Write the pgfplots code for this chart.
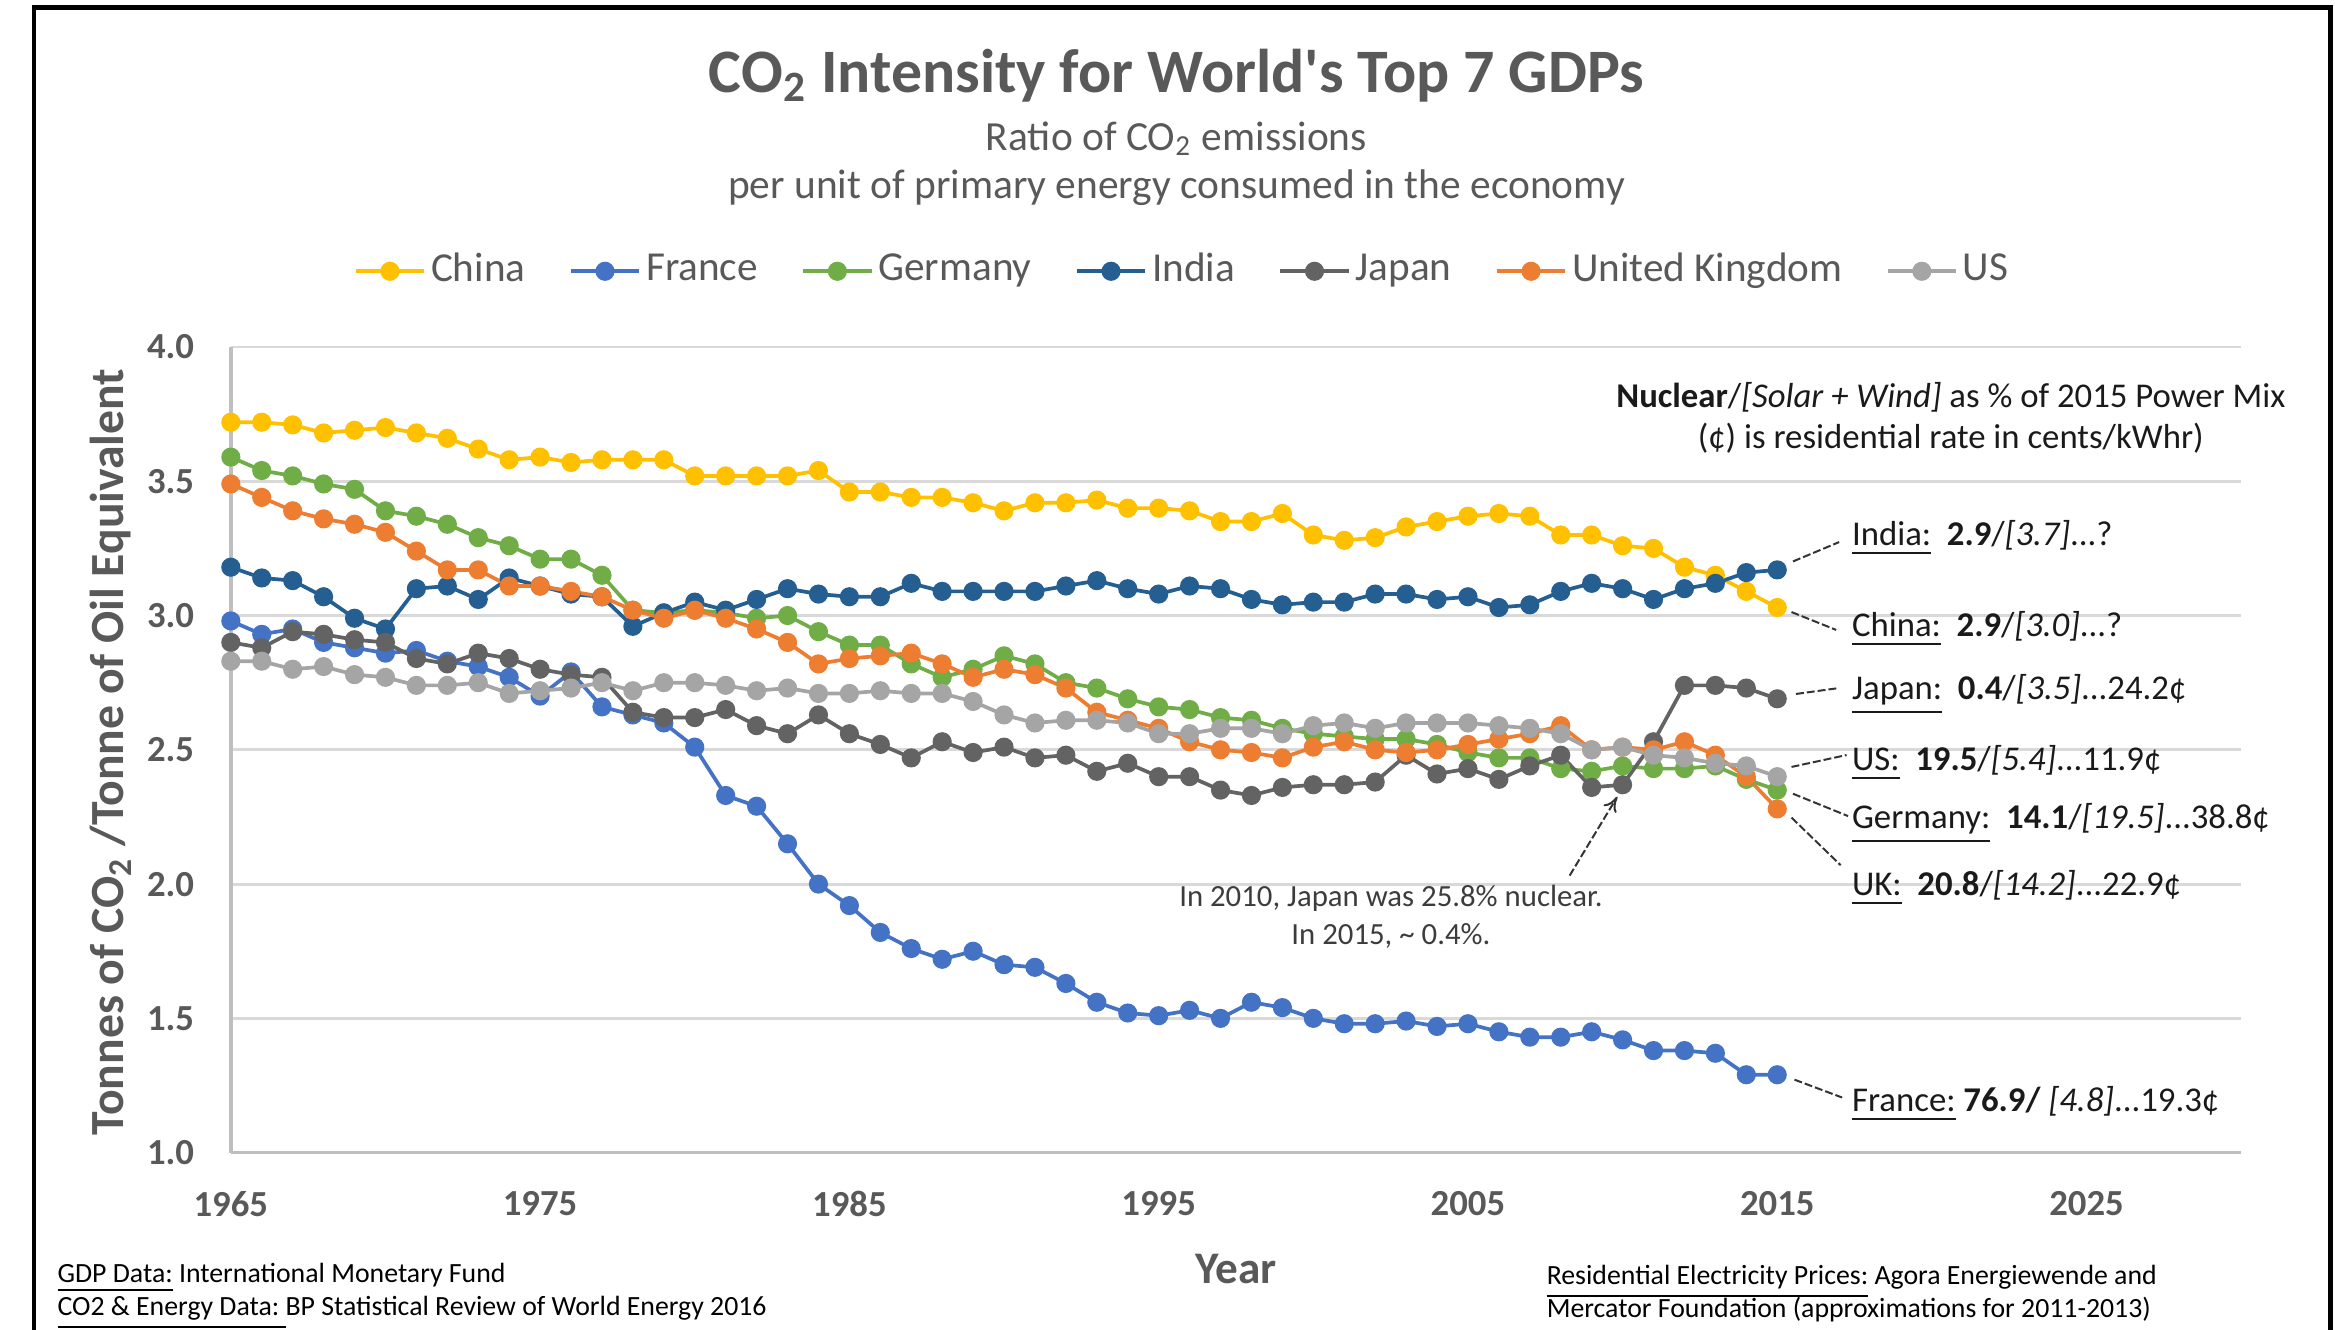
\documentclass[border=0pt]{standalone}
\usepackage{pgfplots}
\pgfplotsset{compat=1.18}
\usepackage{pgfplotstable}
\usepackage{fontspec}
\setmainfont{Carlito}
\usetikzlibrary{arrows.meta}
\definecolor{cChina}{HTML}{FFC000}
\definecolor{cFrance}{HTML}{4472C4}
\definecolor{cGermany}{HTML}{70AD47}
\definecolor{cIndia}{HTML}{255E91}
\definecolor{cJapan}{HTML}{636363}
\definecolor{cUK}{HTML}{ED7D31}
\definecolor{cUS}{HTML}{A5A5A5}
\definecolor{labelgray}{HTML}{595959}
\definecolor{gridgray}{HTML}{D9D9D9}
\definecolor{axisgray}{HTML}{BFBFBF}
\definecolor{notetext}{HTML}{1A1A1A}
\newcommand\fs[1]{\fontsize{#1}{#1}\selectfont}
\newcommand\lgr[1]{\textcolor{labelgray}{#1}}

\pgfplotstableread{
year china france germany india japan uk us
1965 3.72 2.98 3.59 3.18 2.90 3.49 2.83
1966 3.72 2.93 3.54 3.14 2.88 3.44 2.83
1967 3.71 2.95 3.52 3.13 2.94 3.39 2.80
1968 3.68 2.90 3.49 3.07 2.93 3.36 2.81
1969 3.69 2.88 3.47 2.99 2.91 3.34 2.78
1970 3.70 2.86 3.39 2.95 2.90 3.31 2.77
1971 3.68 2.87 3.37 3.10 2.84 3.24 2.74
1972 3.66 2.83 3.34 3.11 2.82 3.17 2.74
1973 3.62 2.81 3.29 3.06 2.86 3.17 2.75
1974 3.58 2.77 3.26 3.14 2.84 3.11 2.71
1975 3.59 2.70 3.21 3.11 2.80 3.11 2.72
1976 3.57 2.79 3.21 3.08 2.78 3.09 2.73
1977 3.58 2.66 3.15 3.07 2.77 3.07 2.75
1978 3.58 2.63 3.02 2.96 2.64 3.02 2.72
1979 3.58 2.60 3.01 3.01 2.62 2.99 2.75
1980 3.52 2.51 3.02 3.05 2.62 3.02 2.75
1981 3.52 2.33 3.01 3.02 2.65 2.99 2.74
1982 3.52 2.29 2.99 3.06 2.59 2.95 2.72
1983 3.52 2.15 3.00 3.10 2.56 2.90 2.73
1984 3.54 2.00 2.94 3.08 2.63 2.82 2.71
1985 3.46 1.92 2.89 3.07 2.56 2.84 2.71
1986 3.46 1.82 2.89 3.07 2.52 2.85 2.72
1987 3.44 1.76 2.82 3.12 2.47 2.86 2.71
1988 3.44 1.72 2.77 3.09 2.53 2.82 2.71
1989 3.42 1.75 2.80 3.09 2.49 2.77 2.68
1990 3.39 1.70 2.85 3.09 2.51 2.80 2.63
1991 3.42 1.69 2.82 3.09 2.47 2.78 2.60
1992 3.42 1.63 2.75 3.11 2.48 2.73 2.61
1993 3.43 1.56 2.73 3.13 2.42 2.64 2.61
1994 3.40 1.52 2.69 3.10 2.45 2.61 2.60
1995 3.40 1.51 2.66 3.08 2.40 2.58 2.56
1996 3.39 1.53 2.65 3.11 2.40 2.53 2.56
1997 3.35 1.50 2.62 3.10 2.35 2.50 2.58
1998 3.35 1.56 2.61 3.06 2.33 2.49 2.58
1999 3.38 1.54 2.58 3.04 2.36 2.47 2.56
2000 3.30 1.50 2.56 3.05 2.37 2.51 2.59
2001 3.28 1.48 2.55 3.05 2.37 2.53 2.60
2002 3.29 1.48 2.54 3.08 2.38 2.50 2.58
2003 3.33 1.49 2.54 3.08 2.48 2.49 2.60
2004 3.35 1.47 2.52 3.06 2.41 2.50 2.60
2005 3.37 1.48 2.49 3.07 2.43 2.52 2.60
2006 3.38 1.45 2.47 3.03 2.39 2.54 2.59
2007 3.37 1.43 2.47 3.04 2.44 2.56 2.58
2008 3.30 1.43 2.43 3.09 2.48 2.59 2.56
2009 3.30 1.45 2.42 3.12 2.36 2.50 2.50
2010 3.26 1.42 2.44 3.10 2.37 2.51 2.51
2011 3.25 1.38 2.43 3.06 2.53 2.50 2.48
2012 3.18 1.38 2.43 3.10 2.74 2.53 2.47
2013 3.15 1.37 2.44 3.12 2.74 2.48 2.45
2014 3.09 1.29 2.39 3.16 2.73 2.40 2.44
2015 3.03 1.29 2.35 3.17 2.69 2.28 2.40
}\datatable

\begin{document}
\begin{tikzpicture}
\path[use as bounding box] (0,0) rectangle (470.4pt,-267.9pt);
\begin{axis}[
  at={(46.5pt,-232.2pt)}, anchor=south west,
  scale only axis, width=405pt, height=162.3pt,
  xmin=1965, xmax=2030, ymin=1, ymax=4,
  xtick={1965,1975,...,2025}, ytick={1,1.5,...,4},
  axis x line*=bottom, axis y line*=left,
  axis line style={-, draw=axisgray, line width=0.7pt},
  xtick style={draw=none}, ytick style={draw=none},
  ymajorgrids, grid style={draw=gridgray, line width=0.6pt},
  /pgf/number format/assume math mode=true,
  xticklabel style={inner sep=0pt, yshift=-7.6pt, font=\bfseries\fs{7.4}, text=labelgray, /pgf/number format/1000 sep={}},
  yticklabel style={inner sep=0pt, xshift=-7.2pt, font=\bfseries\fs{7.4}, text=labelgray, /pgf/number format/fixed, /pgf/number format/fixed zerofill, /pgf/number format/precision=1},
  clip=false,
  ser/.style={color=#1, line width=0.75pt, mark=*, mark size=1.55pt, mark options={solid, fill=#1, draw=#1}},
  legend columns=-1,
  legend style={at={(axis description cs:0.0607,1.094)}, anchor=west, draw=none, fill=none, inner sep=0pt, font=\fs{8.3}, nodes={inner sep=1pt}, /tikz/every even column/.append style={column sep=7.75pt}},
  legend image code/.code={\draw[mark repeat=2,mark phase=2,#1] plot coordinates {(0pt,0pt) (6.9pt,0pt) (13.8pt,0pt)};},
]
\addplot[ser=cChina] table[x=year,y=china]{\datatable};
\addlegendentry{\lgr{China}}
\addplot[ser=cFrance] table[x=year,y=france]{\datatable};
\addlegendentry{\lgr{France}}
\addplot[ser=cGermany] table[x=year,y=germany]{\datatable};
\addlegendentry{\lgr{Germany}}
\addplot[ser=cIndia] table[x=year,y=india]{\datatable};
\addlegendentry{\lgr{India}}
\addplot[ser=cJapan] table[x=year,y=japan]{\datatable};
\addlegendentry{\lgr{Japan}}
\addplot[ser=cUK] table[x=year,y=uk]{\datatable};
\addlegendentry{\lgr{United Kingdom}}
\addplot[ser=cUS] table[x=year,y=us]{\datatable};
\addlegendentry{\lgr{US}}
\end{axis}
\begin{scope}[x=0.3pt, y=-0.3pt, every node/.style={inner sep=0pt}]
  % frame
  \draw[black, line width=0.9pt] (23,900) -- (23,5) -- (1565,5) -- (1565,900);
  % titles
  \node[anchor=base, font=\bfseries\fs{12.45}, text=labelgray] at (790,62) {CO\textsubscript{2} Intensity for World\textquotesingle s Top 7 GDPs};
  \node[anchor=base, font=\fs{8.35}, text=labelgray] at (790,101) {Ratio of CO\textsubscript{2} emissions};
  \node[anchor=base, font=\fs{8.35}, text=labelgray] at (790,133) {per unit of primary energy consumed in the economy};
  % axis titles
  \node[anchor=base, rotate=90, font=\bfseries\fs{9.6}, text=labelgray] at (83,505) {Tonnes of CO\textsubscript{2} /Tonne of Oil Equivalent};
  \node[anchor=base, font=\bfseries\fs{9.1}, text=labelgray] at (830,862) {Year};
  % top-right note
  \node[anchor=base, font=\fs{7}, text=notetext] at (1310,273.5) {\textbf{Nuclear}/\textit{[Solar + Wind]} as \% of 2015 Power Mix};
  \node[anchor=base, font=\fs{7}, text=notetext] at (1310,301) {(¢) is residential rate in cents/kWhr)};
  % right labels
  \begin{scope}[every node/.append style={anchor=base west, font=\fs{7}, text=notetext}]
  \node at (1243,366.5) {\underline{India:}\ \ \textbf{2.9}/\textit{[3.7]}...?};
  \node at (1243,427.5) {\underline{China:}\ \ \textbf{2.9}/\textit{[3.0]}...?};
  \node at (1243,469.5) {\underline{Japan:}\ \ \textbf{0.4}/\textit{[3.5]}...24.2¢};
  \node at (1243,517.5) {\underline{US:}\ \ \textbf{19.5}/\textit{[5.4]}...11.9¢};
  \node at (1243,556.5) {\underline{Germany:}\ \ \textbf{14.1}/\textit{[19.5]}...38.8¢};
  \node at (1243,601.5) {\underline{UK:}\ \ \textbf{20.8}/\textit{[14.2]}...22.9¢};
  \node at (1243,746.5) {\underline{France:}\ \textbf{76.9/} \textit{[4.8]}...19.3¢};
  \end{scope}
  % leader lines
  \begin{scope}[draw=black!80, line width=0.4pt, dash pattern=on 1.6pt off 0.6pt]
  \draw (1204,377) -- (1235,364);
  \draw (1203,411) -- (1233,423);
  \draw (1206,466) -- (1235,462);
  \draw (1203,515) -- (1240,507);
  \draw (1204,533) -- (1241,548);
  \draw (1203,549) -- (1236,581);
  \draw (1205,725) -- (1237,737);
  \end{scope}
  % Japan note
  \node[anchor=base, font=\fs{6.2}, text=notetext!85] at (934,608.5) {In 2010, Japan was 25.8\% nuclear.};
  \node[anchor=base, font=\fs{6.2}, text=notetext!85] at (934,634) {In 2015, \textasciitilde\ 0.4\%.};
  \draw[black!80, line width=0.4pt, dash pattern=on 1.6pt off 0.6pt, -{To[length=3pt,width=3pt]}] (1054,588) -- (1086,535);
  % footnotes
  \begin{scope}[every node/.append style={anchor=base west, font=\fs{5.6}, text=black}]
  \node at (38,861.5) {\underline{GDP Data:} International Monetary Fund};
  \node at (38,883.5) {\underline{CO2 \& Energy Data:\ }BP Statistical Review of World Energy 2016};
  \node at (1038,862.5) {\underline{Residential Electricity Prices:} Agora Energiewende and};
  \node at (1038,884.5) {Mercator Foundation (approximations for 2011-2013)};
  \end{scope}
\end{scope}
\end{tikzpicture}
\end{document}
